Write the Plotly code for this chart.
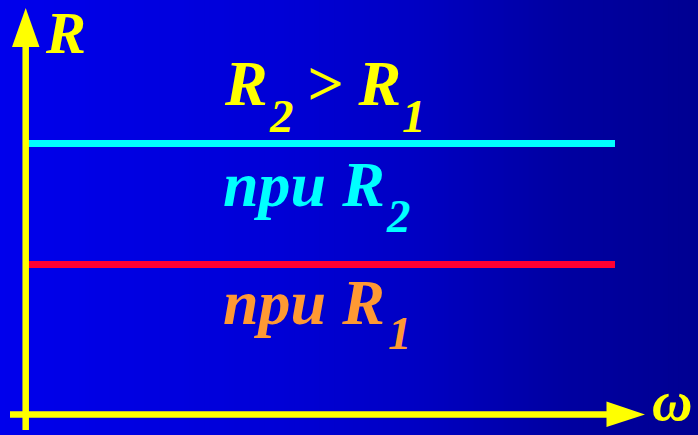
import plotly.graph_objects as go

# Frequency span and the two resistance levels (R is independent of omega)
omega = [0, 10]
R1_level = [1.0, 1.0]
R2_level = [1.81, 1.81]

W, H = 698, 435
FONT = "Liberation Serif"

# data axes: omega = 0 sits at x = 26 px, omega = 10 at x = 615 px; R = 0 at y = 414 px
x_per_unit = (615 - 26) / 10.0
y_per_unit = (414 - 264.5) / 1.0
x_range = [-26 / x_per_unit, (W - 26) / x_per_unit]
y_range = [-(H - 414) / y_per_unit, 414 / y_per_unit]


def px(x):
    return x / W


def py(y):
    return 1 - y / H


fig = go.Figure()

fig.add_trace(go.Scatter(x=omega, y=R2_level, mode="lines",
                         line=dict(color="#00FFFF", width=7), hoverinfo="skip"))
fig.add_trace(go.Scatter(x=omega, y=R1_level, mode="lines",
                         line=dict(color="#FF0033", width=7), hoverinfo="skip"))

shapes = []

# horizontal background gradient, bright blue on the left to navy on the right
stops = [(0.0, 236), (0.4, 214), (0.6, 195), (0.8, 162), (1.0, 145)]


def blue_at(t):
    for (t0, b0), (t1, b1) in zip(stops[:-1], stops[1:]):
        if t <= t1:
            f = (t - t0) / (t1 - t0)
            return b0 + (b1 - b0) * f
    return stops[-1][1]


n_strips = 140
for i in range(n_strips):
    t0 = i / n_strips
    t1 = (i + 1) / n_strips
    b = int(round(blue_at((t0 + t1) / 2)))
    shapes.append(dict(type="rect", xref="paper", yref="paper", x0=t0, x1=t1 + 0.002,
                       y0=0, y1=1, fillcolor=f"rgb(0,0,{b})", line=dict(width=0),
                       layer="below"))

YEL = "#FFFF00"
# vertical axis with arrow head
shapes.append(dict(type="line", xref="paper", yref="paper",
                   x0=px(25.7), x1=px(25.7), y0=py(430), y1=py(45),
                   line=dict(color=YEL, width=6.5), layer="above"))
shapes.append(dict(type="path", xref="paper", yref="paper",
                   path=f"M {px(12)} {py(47)} L {px(25.7)} {py(8)} L {px(39.5)} {py(47)} Z",
                   fillcolor=YEL, line=dict(width=0), layer="above"))
# horizontal axis with arrow head
shapes.append(dict(type="line", xref="paper", yref="paper",
                   x0=px(10), x1=px(609), y0=py(414.5), y1=py(414.5),
                   line=dict(color=YEL, width=6.5), layer="above"))
shapes.append(dict(type="path", xref="paper", yref="paper",
                   path=f"M {px(606.5)} {py(401.5)} L {px(645)} {py(414.5)} L {px(606.5)} {py(427)} Z",
                   fillcolor=YEL, line=dict(width=0), layer="above"))

ann = []


def label(text, x, y_mid, color, size):
    ann.append(dict(text=text, xref="paper", yref="paper", x=px(x), y=py(y_mid),
                    xanchor="left", yanchor="middle", showarrow=False,
                    font=dict(family=FONT, size=size, color=color,
                              weight="bold", style="italic")))


MAIN = 64
SUB = 47
# axis names
label("R", 43, 33, YEL, 60)
label("ω", 650, 401, YEL, 56)
# R2 > R1
label("R", 222, 84, YEL, MAIN)
label("2", 267, 116, YEL, SUB)
label("> R", 304, 84, YEL, MAIN)
label("1", 400, 116, YEL, SUB)
# при R2
label("при R", 221, 184, "#00FFFF", MAIN)
label("2", 384, 216, "#00FFFF", SUB)
# при R1
label("при R", 221, 302, "#FF9933", MAIN)
label("1", 386, 333, "#FF9933", SUB)

fig.update_layout(
    width=W, height=H,
    margin=dict(l=0, r=0, t=0, b=0),
    paper_bgcolor="rgb(0,0,200)",
    plot_bgcolor="rgba(0,0,0,0)",
    showlegend=False,
    xaxis=dict(range=x_range, visible=False, fixedrange=True),
    yaxis=dict(range=y_range, visible=False, fixedrange=True),
    shapes=shapes,
    annotations=ann,
)

fig.write_html("out.html", config={"displayModeBar": False})
